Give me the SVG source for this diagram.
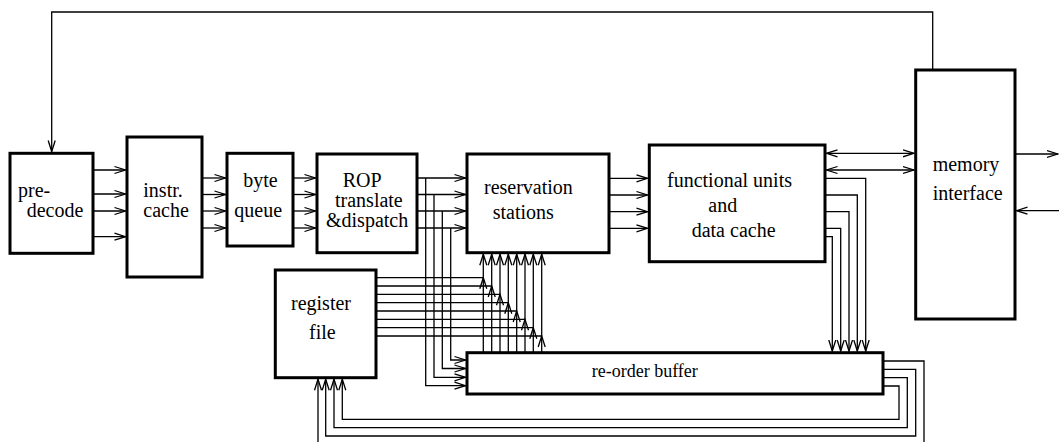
<svg xmlns="http://www.w3.org/2000/svg" xmlns:xlink="http://www.w3.org/1999/xlink" width="1059" height="442" viewBox="0 0 1059 442">
<style>
.box{fill:#fff;stroke:#000;stroke-width:3}
.w{fill:none;stroke:#000;stroke-width:1.3}
.m{marker-end:url(#a)}
.ah{fill:none;stroke:#000;stroke-width:1.3}
</style>
<defs>
<marker id="a" markerUnits="userSpaceOnUse" markerWidth="14" markerHeight="10" refX="11.5" refY="4" orient="auto-start-reverse" viewBox="0 0 14 8">
<path d="M0.5,0.5 L11.5,4 L0.5,7.5" fill="none" stroke="#000" stroke-width="1.3"/>
</marker>
<path id="up" class="ah" d="M-3.5,11 L0,0 L3.5,11"/>
</defs>
<rect width="1059" height="442" fill="#fff"/>
<g id="connectors" class="w">
<path class="m" d="M932.7,70 V12 H51.7 V151.5"/>
<path class="m" d="M93,170 H125.5"/>
<path class="m" d="M93,194 H125.5"/>
<path class="m" d="M93,211 H125.5"/>
<path class="m" d="M93,236.7 H125.5"/>
<path class="m" d="M202,178 H225.5"/>
<path class="m" d="M202,194.5 H225.5"/>
<path class="m" d="M202,211 H225.5"/>
<path class="m" d="M202,228 H225.5"/>
<path class="m" d="M293,178 H315.5"/>
<path class="m" d="M293,194.5 H315.5"/>
<path class="m" d="M293,211 H315.5"/>
<path class="m" d="M293,228 H315.5"/>
<path class="m" d="M417,178 H465.5"/>
<path class="m" d="M417,194.5 H465.5"/>
<path class="m" d="M417,211 H465.5"/>
<path class="m" d="M417,228 H465.5"/>
<path class="m" d="M425.7,178 V385.7 H465.5"/>
<path class="m" d="M434,194.5 V377.3 H465.5"/>
<path class="m" d="M442.3,211 V368.5 H465.5"/>
<path class="m" d="M450.7,228 V360 H465.5"/>
<path class="m" d="M609,178.3 H647.5"/>
<path class="m" d="M609,195 H647.5"/>
<path class="m" d="M609,211.7 H647.5"/>
<path class="m" d="M609,228.3 H647.5"/>
<path marker-start="url(#a)" marker-end="url(#a)" d="M826.5,153.3 H914"/>
<path marker-start="url(#a)" marker-end="url(#a)" d="M826.5,170 H914"/>
<path class="m" d="M1015,154 H1058"/>
<path class="m" d="M1059,210.7 H1016.5"/>
<path class="m" d="M825,178.3 H865.7 V351"/>
<path class="m" d="M825,195 H857.3 V351"/>
<path class="m" d="M825,211.7 H849 V351"/>
<path class="m" d="M825,228.3 H840.7 V351"/>
<path class="m" d="M825,236.7 H832.3 V351"/>
<path class="m" d="M883,361 H924 V447 H318 V379.2"/>
<path class="m" d="M883,369.3 H915.7 V436 H325.7 V379.2"/>
<path class="m" d="M883,377.7 H907.3 V427.7 H334 V379.2"/>
<path class="m" d="M883,386 H899 V419.3 H342.3 V379.2"/>
<path class="m" d="M483.3,352 V254.2"/>
<path class="m" d="M491.7,352 V254.2"/>
<path class="m" d="M500,352 V254.2"/>
<path class="m" d="M508.3,352 V254.2"/>
<path class="m" d="M516.7,352 V254.2"/>
<path class="m" d="M525,352 V254.2"/>
<path class="m" d="M533.3,352 V254.2"/>
<path class="m" d="M541.7,352 V254.2"/>
<path d="M376,277.7 H483.3 M376,286 H491.7 M376,294.3 H500 M376,302.7 H508.3 M376,311 H516.7 M376,319.3 H525 M376,327.7 H533.3 M376,336 H541.7"/>
<use xlink:href="#up" x="483.3" y="277.7"/>
<use xlink:href="#up" x="491.7" y="286"/>
<use xlink:href="#up" x="500" y="294.3"/>
<use xlink:href="#up" x="508.3" y="302.7"/>
<use xlink:href="#up" x="516.7" y="311"/>
<use xlink:href="#up" x="525" y="319.3"/>
<use xlink:href="#up" x="533.3" y="327.7"/>
<use xlink:href="#up" x="541.7" y="336"/>
</g>
<g font-family="Liberation Serif, Times New Roman, serif" font-size="20" fill="#000">
<g id="predecode"><rect class="box" x="10" y="153.3" width="83" height="100"/><text x="18" y="196.7">pre-</text><text x="26.7" y="216.7">decode</text></g>
<g id="icache"><rect class="box" x="127" y="137" width="75" height="140"/><text x="143.3" y="196.7">instr.</text><text x="143.3" y="216.7">cache</text></g>
<g id="bytequeue"><rect class="box" x="227" y="153.3" width="66" height="92.7"/><text x="243.3" y="186.7">byte</text><text x="234.3" y="216.7">queue</text></g>
<g id="rop"><rect class="box" x="317" y="154" width="100" height="98.7"/><text x="342.7" y="186.7">ROP</text><text x="335" y="206.7">translate</text><text x="326" y="226.7">&amp;dispatch</text></g>
<g id="rs"><rect class="box" x="467" y="154" width="142" height="98.7"/><text x="484" y="194">reservation</text><text x="492.7" y="219">stations</text></g>
<g id="fu"><rect class="box" x="649.3" y="145" width="175.7" height="116.7"/><text x="667" y="186.7">functional units</text><text x="708.3" y="211.7">and</text><text x="691.7" y="236.7">data cache</text></g>
<g id="memory"><rect class="box" x="915.7" y="70" width="99.3" height="249"/><text x="932.7" y="171">memory</text><text x="932.7" y="200">interface</text></g>
<g id="regfile"><rect class="box" x="275.3" y="270" width="100.7" height="107.7"/><text x="291" y="310">register</text><text x="309" y="339">file</text></g>
<g id="rob"><rect class="box" x="467" y="352.7" width="416" height="41.3"/><text x="591.7" y="377" font-size="18">re-order buffer</text></g>
</g>
</svg>
